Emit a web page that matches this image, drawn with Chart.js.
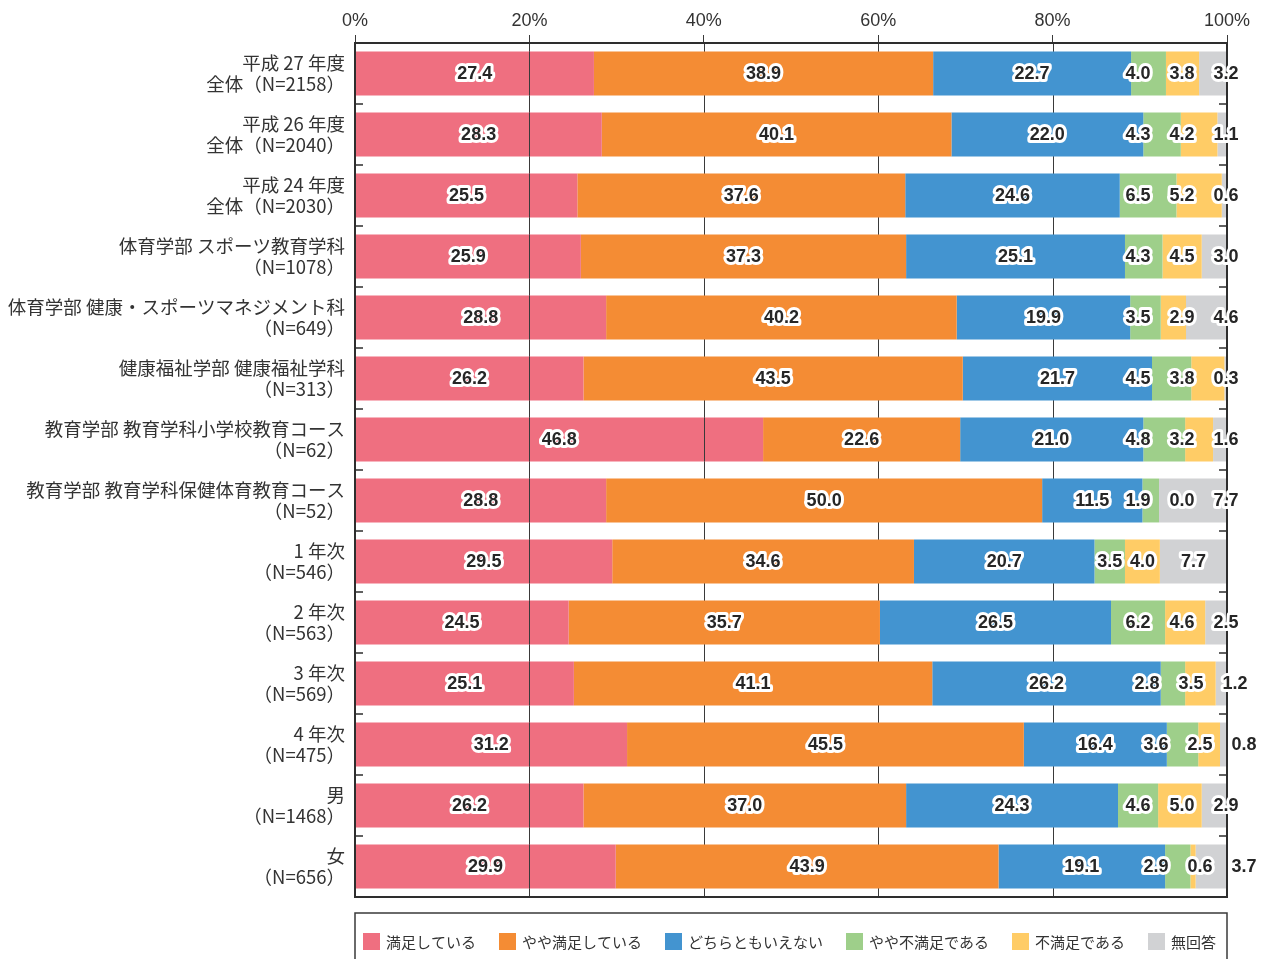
<!DOCTYPE html>
<html lang="ja">
<head>
<meta charset="utf-8">
<title>満足度</title>
<script src="https://cdn.jsdelivr.net/npm/chart.js@4.4.1/dist/chart.umd.min.js"></script>
<style>
  body { margin: 0; background: #fff; }
  #myChart { display: block; }
</style>
</head>
<body>
<canvas id="myChart" width="1261" height="959"></canvas>
<script>
// 回答者区分（2行ラベル）
var categories = [
    ['平成 27 年度', '全体（N=2158）'],
    ['平成 26 年度', '全体（N=2040）'],
    ['平成 24 年度', '全体（N=2030）'],
    ['体育学部 スポーツ教育学科', '（N=1078）'],
    ['体育学部 健康・スポーツマネジメント科', '（N=649）'],
    ['健康福祉学部 健康福祉学科', '（N=313）'],
    ['教育学部 教育学科小学校教育コース', '（N=62）'],
    ['教育学部 教育学科保健体育教育コース', '（N=52）'],
    ['1 年次', '（N=546）'],
    ['2 年次', '（N=563）'],
    ['3 年次', '（N=569）'],
    ['4 年次', '（N=475）'],
    ['男', '（N=1468）'],
    ['女', '（N=656）']
];

var seriesNames = ['満足している', 'やや満足している', 'どちらともいえない', 'やや不満足である', '不満足である', '無回答'];

var manzoku      = [27.4, 28.3, 25.5, 25.9, 28.8, 26.2, 46.8, 28.8, 29.5, 24.5, 25.1, 31.2, 26.2, 29.9];
var yayaManzoku  = [38.9, 40.1, 37.6, 37.3, 40.2, 43.5, 22.6, 50.0, 34.6, 35.7, 41.1, 45.5, 37.0, 43.9];
var dochiramo    = [22.7, 22.0, 24.6, 25.1, 19.9, 21.7, 21.0, 11.5, 20.7, 26.5, 26.2, 16.4, 24.3, 19.1];
var yayaFuman    = [4.0, 4.3, 6.5, 4.3, 3.5, 4.5, 4.8, 1.9, 3.5, 6.2, 2.8, 3.6, 4.6, 2.9];
var fuman        = [3.8, 4.2, 5.2, 4.5, 2.9, 3.8, 3.2, 0.0, 4.0, 4.6, 3.5, 2.5, 5.0, 0.6];
var mukaito      = [3.2, 1.1, 0.6, 3.0, 4.6, 0.3, 1.6, 7.7, 7.7, 2.5, 1.2, 0.8, 2.9, 3.7];

var xTicks = [0, 20, 40, 60, 80, 100];

var colors = ['#ef6f80', '#f48c34', '#4394d0', '#9ecf8a', '#ffcc66', '#d1d2d4'];

// 右側3項目のラベルは右端から並べる。null の行は帯の中央に置く
var tailShift = [0, 0, 0, 0, 0, 0, 0, 0, null, 0, 9, 18, 0, 18];
var TAIL_STEP = 44;

var ctx = document.getElementById('myChart');

function drawGrid(chart) {
    let c = chart.ctx;
    let area = chart.chartArea;
    let xs = chart.scales.x;
    c.save();
    c.strokeStyle = '#3a3a3a';
    c.lineWidth = 1;
    xTicks.forEach(function (t) {
        if (t == 0 || t == 100) return;
        let px = Math.round(xs.getPixelForValue(t)) + 0.5;
        c.beginPath();
        c.moveTo(px, area.top);
        c.lineTo(px, area.bottom);
        c.stroke();
    });
    c.restore();
}

var framePlugin = {
    id: 'frame',
    beforeDatasetsDraw: function (chart) {
        drawGrid(chart);
    },
    afterDatasetsDraw: function (chart) {
        let c = chart.ctx;
        let area = chart.chartArea;

        // 目盛線は「満足している」の帯の上にも見える
        chart.getDatasetMeta(0).data.forEach(function (bar) {
            let p = bar.getProps(['x', 'y', 'base', 'height'], true);
            c.save();
            c.beginPath();
            c.rect(p.base, p.y - p.height / 2, p.x - p.base, p.height);
            c.clip();
            drawGrid(chart);
            c.restore();
        });

        // 外枠と区切りの目盛
        c.save();
        c.strokeStyle = '#2e2e2e';
        c.lineWidth = 2;
        c.strokeRect(area.left, area.top, area.right - area.left, area.bottom - area.top);
        c.lineWidth = 1.5;
        let ys = chart.scales.y;
        for (let i = 1; i < categories.length; i++) {
            let py = Math.round((ys.getPixelForValue(i - 1) + ys.getPixelForValue(i)) / 2);
            c.beginPath();
            c.moveTo(area.left, py);
            c.lineTo(area.left + 8, py);
            c.moveTo(area.right - 8, py);
            c.lineTo(area.right, py);
            c.stroke();
        }
        c.restore();

        drawValueLabels(chart);
    },
    afterDraw: function (chart) {
        drawLegend(chart);
    }
};

function drawValueLabels(chart) {
    let c = chart.ctx;
    let area = chart.chartArea;
    c.save();
    c.font = 'bold 18px "Liberation Sans", Arial, sans-serif';
    c.textAlign = 'center';
    c.textBaseline = 'middle';
    c.lineJoin = 'round';
    c.lineWidth = 6;
    c.strokeStyle = '#ffffff';
    c.fillStyle = '#262626';
    chart.data.datasets.forEach(function (ds, di) {
        let meta = chart.getDatasetMeta(di);
        meta.data.forEach(function (bar, i) {
            let p = bar.getProps(['x', 'y', 'base'], true);
            let lx = (p.x + p.base) / 2;
            if (di >= 3 && tailShift[i] !== null) {
                lx = area.right - 1 + tailShift[i] - (5 - di) * TAIL_STEP;
            }
            let txt = ds.data[i].toFixed(1);
            c.strokeText(txt, lx, p.y + 1);
            c.fillText(txt, lx, p.y + 1);
        });
    });
    c.restore();
}

function drawLegend(chart) {
    let c = chart.ctx;
    let area = chart.chartArea;
    let top = 913;
    c.save();
    c.strokeStyle = '#3a3a3a';
    c.lineWidth = 1.5;
    c.strokeRect(area.left, top, area.right - area.left, 80);

    c.font = '15px "Noto Sans CJK JP", sans-serif';
    c.textBaseline = 'middle';
    c.textAlign = 'left';
    let x = area.left + 8;
    let cy = top + 28;
    chart.data.datasets.forEach(function (ds) {
        c.fillStyle = ds.backgroundColor;
        c.fillRect(x, cy - 8, 17, 17);
        c.fillStyle = '#333';
        c.fillText(ds.label, x + 23, cy + 1);
        x += 23 + c.measureText(ds.label).width + 23;
    });
    c.restore();
}

var seriesData = [manzoku, yayaManzoku, dochiramo, yayaFuman, fuman, mukaito];

var myChart = new Chart(ctx, {
    type: 'bar',
    data: {
        labels: categories,
        datasets: seriesNames.map(function (name, i) {
            return {
                label: name,
                data: seriesData[i],
                backgroundColor: colors[i],
                borderWidth: 0,
                barPercentage: 0.72,
                categoryPercentage: 1.0
            };
        })
    },
    options: {
        indexAxis: 'y',
        responsive: false,
        animation: false,
        layout: {
            padding: { top: 0, right: 34, bottom: 62, left: 0 }
        },
        plugins: {
            legend: { display: false },
            tooltip: { enabled: false }
        },
        scales: {
            x: {
                position: 'top',
                stacked: true,
                min: 0,
                max: 100,
                afterBuildTicks: function (scale) {
                    scale.ticks = xTicks.map(function (v) { return { value: v }; });
                },
                afterFit: function (scale) {
                    scale.height = 43;
                },
                ticks: {
                    callback: function (v) { return v + '%'; },
                    color: '#333',
                    font: { family: '"Liberation Sans", Arial, sans-serif', size: 18 },
                    padding: 3,
                    maxRotation: 0
                },
                grid: {
                    drawOnChartArea: false,
                    drawTicks: true,
                    tickLength: 8,
                    color: '#3a3a3a'
                },
                border: { display: false }
            },
            y: {
                stacked: true,
                afterFit: function (scale) {
                    scale.width = 355;
                },
                ticks: {
                    color: '#333',
                    autoSkip: false,
                    padding: 2,
                    font: { family: '"Noto Sans CJK JP", sans-serif', size: 18.5, lineHeight: 1.15 }
                },
                grid: { display: false },
                border: { display: false }
            }
        }
    },
    plugins: [framePlugin]
});
</script>
</body>
</html>
